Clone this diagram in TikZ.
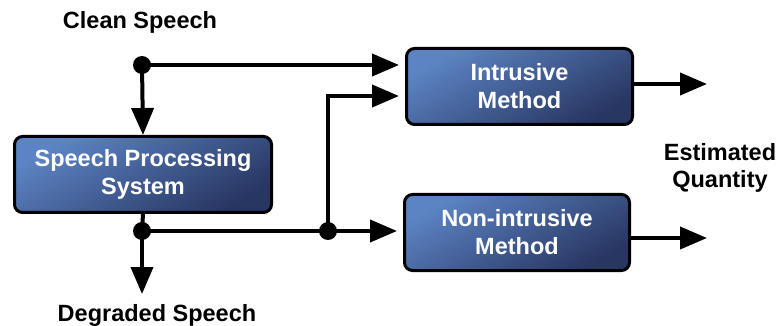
\documentclass[tikz,border=0pt]{standalone}
\usepackage{fontspec}
\setmainfont{Liberation Sans}
\usetikzlibrary{arrows.meta}
\definecolor{boxtop}{RGB}{92,132,196}
\definecolor{boxbot}{RGB}{40,54,98}
\begin{document}
\begin{tikzpicture}[x=1pt,y=-1pt,
  procbox/.style={draw=black, line width=3pt, rounded corners=8pt,
    top color=boxtop, bottom color=boxbot, shading angle=30,
    minimum height=76pt, align=center, text=white,
    font=\fontsize{23.5}{28}\selectfont\bfseries, inner sep=0pt},
  conn/.style={line width=4pt},
  arr/.style={conn, -{Triangle[length=27pt,width=22pt]}},
  dotnode/.style={circle, fill=black, minimum size=18pt, inner sep=0pt},
  lbl/.style={font=\fontsize{23.5}{27}\selectfont\bfseries, align=center, inner sep=0pt}]
\useasboundingbox (0,0) rectangle (777,326);
% boxes
\node[procbox, minimum width=257pt] (sps) at (143,174.5) {Speech Processing\\System};
\node[procbox, minimum width=226pt] (intr) at (519.5,86.5) {Intrusive\\Method};
\node[procbox, minimum width=225pt] (nonint) at (517,232.5) {Non-intrusive\\Method};
% labels
\node[lbl] (clean) at (140,22) {Clean Speech};
\node[lbl] (deg) at (157,315) {Degraded Speech};
\node[lbl] (est) at (720,168) {Estimated\\Quantity};
% coordinates
\coordinate (cdot) at (142,65);
\coordinate (ddot) at (142,231);
\coordinate (jdot) at (328,231);
\coordinate (bend) at (328,96);
\coordinate (dend) at (142,294);
\coordinate (o1) at (707,84);
\coordinate (o2) at (707,238);
% connectors
\draw[arr] (cdot) -- (sps.north);
\draw[arr, shorten >=6pt] (cdot) -- (cdot -| intr.west);
\draw[conn] (sps.south) -- (ddot);
\draw[arr] (ddot) -- (dend);
\draw[conn] (ddot) -- (jdot);
\draw[arr, shorten >=6pt] (jdot) -- (jdot -| nonint.west);
\draw[arr, shorten >=6pt] (jdot) -- (bend) -- (bend -| intr.west);
\draw[arr] (intr.east |- o1) -- (o1);
\draw[arr] (nonint.east |- o2) -- (o2);
% dots
\node[dotnode] (cd) at (cdot) {};
\node[dotnode] (dd) at (ddot) {};
\node[dotnode] (jd) at (jdot) {};
\end{tikzpicture}
\end{document}
